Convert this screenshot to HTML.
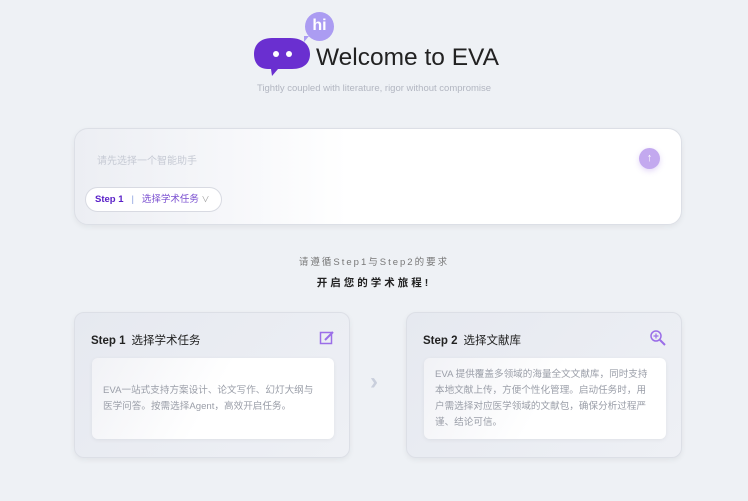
<!DOCTYPE html>
<html><head><meta charset="utf-8"><style>
*{margin:0;padding:0;box-sizing:border-box}
body{width:748px;height:501px;background:#eef1f5;font-family:"Liberation Sans","Noto Sans CJK SC",sans-serif;position:relative;overflow:hidden}
.abs{position:absolute}
.card{position:absolute;top:312px;width:276px;height:146px;border-radius:10px;background:linear-gradient(135deg,#e6e9f0,#eef0f5);border:1px solid #dcdfe6;box-shadow:0 2px 6px rgba(0,0,0,.06)}
.card h3{position:absolute;left:16px;top:19px;font-size:11.5px;font-weight:normal;color:#222}
.card h3 b{margin-right:6px}
.inner{position:absolute;left:17px;top:45px;width:242px;height:81px;border-radius:6px;background:linear-gradient(120deg,#f1f2f6,#fff 50%);box-shadow:0 1px 4px rgba(0,0,0,.06);font-size:9.6px;line-height:16px;color:#9a9ea8;padding:0 18px 0 11px;display:flex;align-items:center}
</style></head><body>
<div class="abs" style="left:305px;top:12px;width:29px;height:29px;border-radius:50%;background:#ab9cf2;color:#fff;font-weight:bold;font-size:16px;text-align:center;line-height:27px">hi</div>
<div class="abs" style="left:304px;top:36px;width:0;height:0;border-left:5px solid #ab9cf2;border-bottom:6px solid transparent"></div>
<svg class="abs" style="left:252px;top:36px" width="60" height="42">
<path d="M20 2 H38 C52 2 58 10 58 18 C58 27 52 33 40 33 H26 L20 40 L19 33 H16 C6 33 2 26 2 18 C2 9 8 2 20 2Z" fill="#6a2fd0"/>
<circle cx="24" cy="18" r="3" fill="#fff"/><circle cx="37" cy="18" r="3" fill="#fff"/>
</svg>
<div class="abs" style="left:316px;top:44px;font-size:24.5px;color:#222;font-family:'Liberation Sans',sans-serif">Welcome to EVA</div>
<div class="abs" style="left:0;width:748px;top:83px;text-align:center;font-size:9.5px;color:#b2b6c1">Tightly coupled with literature, rigor without compromise</div>

<div class="abs" style="left:74px;top:128px;width:608px;height:97px;border-radius:14px;background:linear-gradient(90deg,#eceef3 0%,#f6f7fa 25%,#fff 45%);border:1px solid #dcdfe6;box-shadow:0 2px 6px rgba(0,0,0,.06)"></div>
<div class="abs" style="left:97px;top:152px;font-size:10px;color:#c6cad4">请先选择一个智能助手</div>
<div class="abs" style="left:639px;top:148px;width:21px;height:21px;border-radius:50%;background:#c3a9ef;color:#fff;text-align:center;line-height:20px;font-size:11px;box-shadow:0 2px 6px rgba(160,120,230,.3)">↑</div>
<div class="abs" style="left:85px;top:187px;width:137px;height:25px;border-radius:13px;background:#fff;border:1px solid #d8dae2;font-size:9.5px;line-height:23px;padding-left:9px;color:#7a4fd0;white-space:nowrap"><b style="color:#5a20c8">Step 1</b>&nbsp;&nbsp;&nbsp;<span style="color:#8aa0e0">|</span>&nbsp;&nbsp;&nbsp;选择学术任务&nbsp;<span style="color:#999;font-size:8px;display:inline-block;vertical-align:top">∨</span></div>

<div class="abs" style="left:0;width:748px;top:254px;text-align:center;font-size:9.5px;color:#777;letter-spacing:2px">请遵循Step1与Step2的要求</div>
<div class="abs" style="left:0;width:748px;top:275px;text-align:center;font-size:10.5px;color:#222;font-weight:bold;letter-spacing:3px">开启您的学术旅程!</div>

<div class="card" style="left:74px"><h3><b>Step 1</b>选择学术任务</h3>
<svg class="abs" style="left:244px;top:17px" width="16" height="16"><rect x="1.5" y="2.5" width="11" height="11" fill="none" stroke="#9b6ee8" stroke-width="1.5"/><path d="M6 10 L14 2" stroke="#9b6ee8" stroke-width="2"/></svg>
<div class="inner">EVA一站式支持方案设计、论文写作、幻灯大纲与医学问答。按需选择Agent，高效开启任务。</div></div>
<div class="abs" style="left:370px;top:368px;font-size:24px;color:#c9cfdc;font-weight:bold">›</div>
<div class="card" style="left:406px"><h3><b>Step 2</b>选择文献库</h3>
<svg class="abs" style="left:242px;top:16px" width="18" height="18"><circle cx="7" cy="7" r="5" fill="none" stroke="#9b6ee8" stroke-width="1.5"/><path d="M7 4.5v5M4.5 7h5" stroke="#9b6ee8" stroke-width="1.2"/><path d="M11 11l5 5" stroke="#9b6ee8" stroke-width="2"/></svg>
<div class="inner">EVA 提供覆盖多领域的海量全文文献库，同时支持本地文献上传，方便个性化管理。启动任务时，用户需选择对应医学领域的文献包，确保分析过程严谨、结论可信。</div></div>
</body></html>
